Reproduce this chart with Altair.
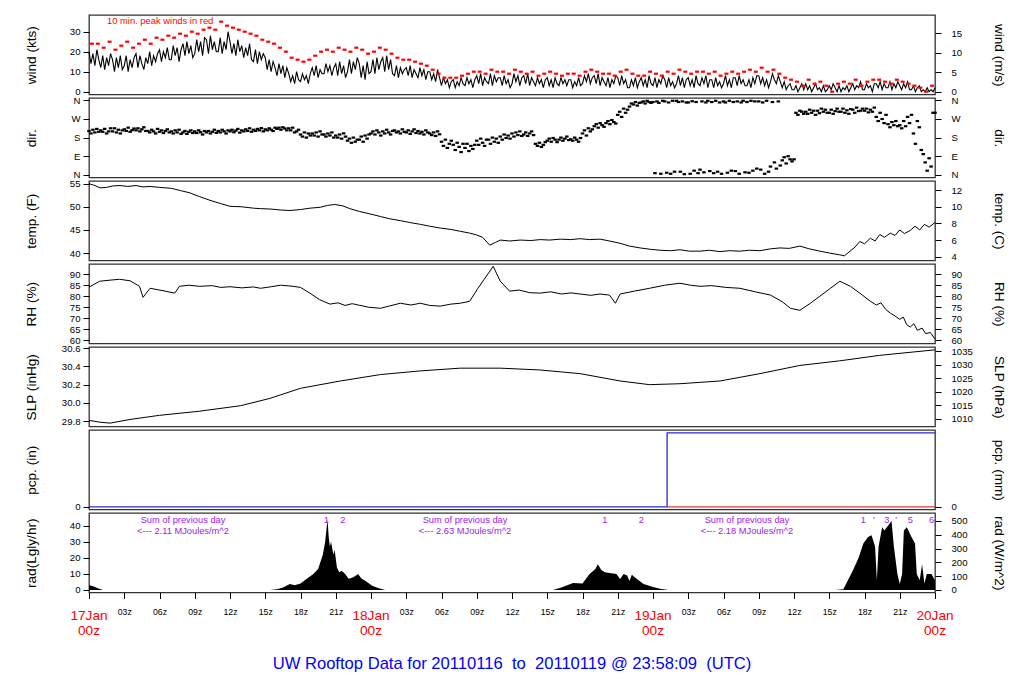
import altair as alt
import pandas as pd

# ---------------- data ----------------
# wind speed (kts), every 10 min starting 17Jan 00z
WIND_KTS = [
 20,14,19,13,21,16, 12,18,11,17,13,19, 16,10,17,12,18,11, 13,18,10,16,12,17, 19,12,18,14,11,17, 14,20,13,18,15,19,
 21,15,20,17,22,16, 16,23,18,22,15,21, 24,18,25,19,23,17, 19,26,20,25,18,27, 26,19,28,21,25,20, 20,27,19,25,21,30,
 25,19,24,18,26,20, 23,17,22,18,24,16, 15,21,14,20,16,19, 17,11,16,10,15,12, 8,14,9,13,7,12, 9,5,8,4,10,6,
 5,9,6,8,4,9, 12,8,13,7,11,9, 9,14,10,13,8,12, 14,8,15,9,13,7, 10,16,9,15,11,17, 14,7,13,6,15,9,
 10,16,9,17,11,15, 17,10,18,11,16,9, 8,13,7,12,9,11, 12,8,13,7,11,9, 7,12,8,11,6,10, 10,6,9,5,11,7,
 3,7,4,6,2,5, 6,2,5,3,7,4, 3,7,4,6,2,6, 8,4,9,3,7,5, 4,9,3,8,5,7, 7,3,8,4,6,2,
 4,9,5,8,3,7, 8,4,9,3,7,5, 3,7,4,6,2,6, 7,3,6,2,7,4, 3,7,4,6,3,6, 6,2,5,3,7,3,
 4,8,5,9,4,7, 8,4,9,3,7,5, 3,7,2,6,4,8, 7,3,8,4,6,2, 2,6,3,7,2,5, 7,3,6,2,8,4,
 3,7,2,6,4,8, 6,2,7,3,5,2, 4,8,3,7,2,6, 7,3,6,2,8,4, 3,7,4,8,2,6, 6,2,7,3,5,2,
 4,8,3,6,2,7, 7,3,8,4,6,3, 3,6,2,7,4,8, 8,4,7,3,6,2, 5,9,6,4,8,5, 2,5,1,3,4,1,
 1,3,0,2,4,1, 4,1,3,0,2,4, 1,2,0,3,0,1, 3,1,4,2,0,3, 0,2,1,3,0,2, 4,1,3,2,5,1,
 1,4,2,3,0,4, 4,2,5,1,4,2, 2,5,1,4,2,5, 3,1,4,2,5,1, 1,3,0,2,3,0, 1,0,2,0,1,0,
 2]

# 10-min peak winds (kts), every 30 min
PEAK_KTS = [
 24,24, 22,25, 21,23, 25,22, 24,26, 24,27, 26,28, 27,29, 28,30, 29,31, 32,31, 35,33,
 32,31, 30,29, 28,26, 25,24, 22,20, 17,16, 15,16, 18,20, 21,20, 22,21, 20,22, 21,19,
 20,22, 21,19, 17,16, 16,15, 14,13, 11,9, 7,7, 7,8, 9,10, 10,9, 11,10, 10,9,
 11,10, 9,10, 8,9, 10,9, 8,9, 9,8, 10,11, 10,9, 9,8, 10,11, 9,8, 8,10,
 9,8, 10,9, 11,10, 9,10, 10,9, 10,8, 9,10, 9,10, 11,10, 12,10, 11,9, 7,6,
 5,3, 6,4, 5,3, 0,4, 5,4, 6,3, 5,6, 6,5, 4,6, 5,4, 3,2, 0,3]

# wind direction (deg), every 10 min
DIR_DEG = [
 212,200,218,205,222,208, 215,208,222,200,210,225, 210,225,205,218,200,215, 220,212,228,208,216,224, 215,225,210,220,230,212, 212,205,218,210,200,222,
 208,215,202,212,220,205, 210,200,215,205,218,198, 205,212,198,208,215,202, 210,202,215,206,195,212, 205,212,200,208,218,203, 212,205,218,210,200,215,
 210,218,206,214,222,204, 215,210,220,212,225,208, 218,212,222,215,226,210, 220,215,225,218,212,228, 222,228,218,230,224,215, 225,215,228,205,210,218,
 195,185,205,180,200,190, 200,190,205,185,210,195, 195,185,200,190,205,180, 190,180,195,175,200,185, 165,175,155,180,160,170, 170,185,160,190,175,195,
 200,210,195,215,205,190, 210,200,218,205,195,212, 215,205,210,200,220,208, 205,215,198,210,220,202, 212,200,208,195,215,205, 200,192,205,188,210,196,
 160,140,170,130,150,165, 145,120,155,135,110,150, 130,150,115,140,125,145, 165,145,175,155,140,170, 170,150,180,160,175,155, 185,170,195,178,190,175,
 200,185,205,192,210,188, 195,205,188,200,210,192, 150,140,155,135,145,158, 165,175,160,178,170,158, 170,180,165,175,185,168, 172,165,180,170,160,178,
 200,215,190,225,210,220, 235,245,228,250,240,232, 250,260,245,265,255,248, 290,305,280,320,300,315, 330,345,340,352,335,348, 350,355,345,358,352,348,
 352,8,355,348,5,358, 355,10,350,5,358,15, 358,352,15,355,3,350, 350,5,356,20,352,8, 25,355,12,350,358,18, 352,8,358,15,350,5,
 355,350,10,358,20,352, 18,355,5,350,358,12, 352,10,358,20,355,30, 355,25,350,5,358,15, 40,352,60,30,355,45, 70,85,55,90,75,65,
 75,300,290,310,305,295, 305,295,315,300,310,290, 310,298,320,305,315,300, 300,315,295,308,320,305, 305,320,300,312,295,318, 315,300,325,308,310,320,
 310,320,302,315,305,325, 280,260,300,270,250,290, 245,230,255,240,260,235, 240,225,260,235,280,250, 290,200,150,260,230,120, 100,60,20,80,40,300,
 300]

TEMP_T = [0, 0.5, 0.94, 1.5, 2.0, 2.64, 3.3, 4.0, 4.6, 5.2, 6.0, 7.0, 7.8, 8.6, 9.4, 10.3, 11.2,
          12, 13, 14, 14.6, 15.5, 16.3, 17.1, 18, 18.8, 19.7, 20.3, 20.9, 21.6, 22.2, 23, 24,
          24.8, 25.6, 26.5, 27.3, 28.2, 29, 29.9, 30.8, 31.6, 32.4, 33.0, 33.5, 34.1, 34.6, 35,
          35.8, 36.7, 37.6, 38.4, 39.2, 40.1, 41, 41.8, 42.6, 43.5, 44.3, 45.2, 46, 46.9, 47.8,
          48.6, 49.5, 50.3, 51.1, 52, 52.8, 53.7, 54.5, 55.4, 56.2, 57.1, 58, 58.8, 59.6, 60.5,
          61.3, 62.2, 63, 63.9, 64.3, 65.2, 65.6, 66.0, 66.5, 66.9, 67.3, 67.7, 68.2, 68.6, 69.0,
          69.4, 69.9, 70.3, 70.7, 71.1, 71.5, 72]
TEMP_F = [55.0, 54.6, 54.1, 54.2, 54.5, 54.6, 54.4, 54.6, 54.3, 54.4, 54.2, 54.0, 53.5, 53.0,
          52.2, 51.4, 50.7, 50.1, 50.0, 49.7, 49.6, 49.5, 49.3, 49.2, 49.4, 49.7, 49.9, 50.3,
          50.5, 50.2, 49.6, 49.0, 48.4, 47.9, 47.4, 47.0, 46.6, 46.2, 45.8, 45.4, 45.1, 44.7,
          44.3, 43.9, 43.4, 41.7, 42.3, 42.8, 42.6, 42.8, 42.7, 42.9, 42.8, 43.0, 42.9, 43.1,
          42.9, 43.0, 42.6, 42.1, 41.5, 41.1, 40.8, 40.6, 40.5, 40.7, 40.4, 40.4, 40.6, 40.3,
          40.5, 40.4, 40.6, 40.5, 40.9, 41.1, 41.0, 41.5, 40.9, 40.4, 40.0, 39.6, 39.4, 41.3,
          42.5, 42.0, 43.2, 42.6, 44.0, 43.4, 44.3, 43.8, 45.0, 44.2, 44.9, 45.8, 45.0, 46.2,
          45.6, 46.6]

RH_T = [0, 0.9, 1.8, 2.6, 3.5, 4.3, 4.6, 5.2, 5.8, 6.3, 7.3, 7.7, 8.5, 9.4, 10.5, 11.2, 12, 13,
        14, 14.6, 15.5, 16.3, 17.2, 18, 18.8, 19.6, 20.5, 21.2, 21.8, 22.4, 23, 23.8, 24.8,
        25.6, 26.5, 27.4, 28.2, 29.0, 29.9, 30.8, 31.6, 32.4, 33.1, 34, 34.4, 35, 35.8, 36.6,
        37.5, 38.4, 39.3, 40.2, 41, 41.8, 42.7, 43.5, 44.3, 44.8, 45.2, 46.4, 47.7, 49, 50.3,
        51.2, 52, 53, 54.2, 55.4, 56.7, 58, 59, 59.7, 60.5, 61.4, 62.2, 63.1, 63.9, 64.8, 65.6,
        66.5, 67.0, 67.4, 67.8, 68.2, 68.6, 69.0, 69.3, 69.6, 69.9, 70.2, 70.5, 70.9, 71.2,
        71.6, 72]
RH_PCT = [84.1, 86.8, 87.3, 87.7, 87.0, 84.5, 79.5, 83.6, 83.0, 82.5, 81.4, 84.5, 85.0, 84.5,
          84.8, 84.0, 84.3, 83.8, 84.2, 83.6, 84.3, 85.0, 84.6, 84.0, 81.4, 78.5, 76.4, 77.0,
          75.8, 76.6, 75.9, 75.0, 74.5, 75.6, 76.8, 76.0, 76.8, 75.8, 75.5, 76.4, 76.8, 77.7,
          83.6, 90.5, 93.6, 86.8, 82.3, 82.8, 81.6, 81.4, 82.0, 81.0, 81.5, 81.0, 80.4, 81.0,
          80.5, 76.8, 81.0, 82.3, 83.6, 85.0, 85.9, 85.0, 84.5, 84.8, 84.0, 83.6, 82.0, 80.5,
          77.5, 74.5, 73.6, 76.8, 80.0, 83.6, 86.8, 84.5, 81.4, 77.7, 76.0, 77.0, 74.0, 72.3,
          71.0, 69.5, 70.5, 67.0, 66.0, 67.5, 64.5, 65.5, 63.0, 63.5, 60.5]

SLP_T = [0, 0.94, 1.8, 3.5, 6, 9.4, 12.9, 15.4, 18, 21.4, 24.8, 28.2, 31.6, 35, 38.4, 41.8,
         45.2, 47.7, 50.3, 53.7, 57.1, 60.5, 63.9, 67.3, 72]
SLP_INHG = [29.81, 29.79, 29.78, 29.82, 29.865, 29.91, 29.97, 30.05, 30.16, 30.24, 30.31,
            30.35, 30.38, 30.38, 30.36, 30.32, 30.24, 30.20, 30.21, 30.24, 30.32, 30.41,
            30.46, 30.52, 30.58]

PCP_T = [0, 49.2, 49.2, 72]
PCP_IN = [0, 0, 0.01, 0.01]
PCP_MM_T = [49.2, 72]
PCP_MM = [0, 0]

RAD_T = [0, 0.3, 0.8, 1.2,
         15.4, 16, 16.5, 17.1, 17.5, 18, 18.5, 19.1, 19.5, 19.9, 20.1, 20.2, 20.3, 20.4, 20.5,
         20.6, 20.8, 20.9, 21.1, 21.3, 21.5, 21.8, 22.1, 22.5, 22.9, 23.2, 23.5, 24.1, 24.6, 25.2,
         39.5, 40.2, 41.2, 42, 42.6, 43.1, 43.3, 43.6, 43.9, 44.3, 44.9, 45.2, 45.5, 45.8, 46,
         46.2, 46.6, 47.2, 48, 48.6, 49.3,
         63.5, 64.2, 65, 65.5, 65.9, 66.3, 66.6, 66.9, 67.05, 67.2, 67.5, 67.7, 68, 68.3, 68.5,
         68.8, 69, 69.2, 69.35, 69.6, 70, 70.3, 70.45, 70.7, 70.9, 71.1, 71.3, 71.7, 71.85, 72]
RAD_LGLY = [3, 2.5, 1, 0,
            0, 0.5, 1.5, 3.7, 3, 4, 6.8, 10, 13, 22, 30, 37, 44, 33, 27,
            30, 22, 25, 14, 11, 12, 10, 7, 8, 10, 7, 5.8, 2.7, 1.2, 0,
            0, 1.5, 4.4, 4, 10, 13, 16, 12.5, 11, 10.5, 10, 6.8, 10, 9, 5.6,
            9.5, 7, 3.7, 1.9, 0.8, 0,
            0, 0.5, 12, 20, 29, 33, 34, 27, 6, 27, 39, 37, 40, 43, 27,
            10, 3.7, 10, 37, 39, 33, 29, 10, 6, 16, 4, 10, 10, 8, 6]

ANN_H = [8, 32, 56]
ANN_L1 = ["Sum of previous day", "Sum of previous day", "Sum of previous day"]
ANN_L2 = ["<--- 2.11 MJoules/m^2", "<--- 2.63 MJoules/m^2", "<--- 2.18 MJoules/m^2"]
NUM_H = [20.2, 21.6, 43.9, 47.0, 65.9, 66.8, 67.9, 68.7, 69.9, 71.7]
NUM_T = ["1", "2", "1", "2", "1", "'", "3", "'", "5", "6"]

DAY_H = [0, 24, 48, 72]
DAY_L = ["17Jan", "18Jan", "19Jan", "20Jan"]
DAY_Z = ["00z", "00z", "00z", "00z"]

WIND_NOTE = "10 min. peak winds in red"
TITLE = "UW Rooftop Data for 20110116 \u00a0to \u00a020110119 @ 23:58:09 \u00a0(UTC)"

# ---------------- layout / styling ----------------
W = 846
H = 79.5
FONT = "Liberation Sans"
PURPLE = "#a020f0"
XS = alt.Scale(domain=[0, 72], nice=False, zero=False)
X_NONE = alt.X("h:Q", scale=XS, axis=None)


def yaxis(title, values, side, fmt=None, expr=None):
    d = dict(title=title, values=values, orient=side, grid=False, domain=False,
             ticks=True, tickSize=6, tickColor="black", labelColor="black",
             labelFont=FONT, labelFontSize=9.6,
             labelPadding=3 if side == "left" else 10,
             titleFont=FONT, titleFontSize=13.6, titleFontWeight="normal",
             titleColor="black",
             titleX=-58 if side == "left" else 63, titleY=H / 2,
             titleAngle=270 if side == "left" else 90,
             titleAlign="center", titleBaseline="middle",
             labelOverlap=False, labelFlush=False)
    if fmt:
        d["format"] = fmt
    if expr:
        d["labelExpr"] = expr
    return alt.Axis(**d)


def ys(dom):
    return alt.Scale(domain=dom, nice=False, zero=False)


# ---- wind ----
WIND_DOM = [-1.4, 38.35]
wind_df = pd.DataFrame({"h": [i / 6 for i in range(len(WIND_KTS))], "kts": WIND_KTS})
wind_df["ms"] = wind_df["kts"] * 0.5144
peak_df = pd.DataFrame({"h": [0.25 + 0.5 * i for i in range(len(PEAK_KTS))], "kts": PEAK_KTS})

wind = alt.layer(
    alt.Chart(wind_df).mark_line(color="black", strokeWidth=1.1).encode(
        x=X_NONE, y=alt.Y("kts:Q", scale=ys(WIND_DOM), axis=yaxis("wind (kts)", [0, 10, 20, 30], "left"))),
    alt.Chart(peak_df).mark_tick(orient="horizontal", color="#ff0000", size=4, thickness=2.2, opacity=1).encode(
        x=X_NONE, y=alt.Y("kts:Q", scale=ys(WIND_DOM), axis=None)),
    alt.Chart(pd.DataFrame({"t": [WIND_NOTE]})).mark_text(
        align="left", baseline="middle", color="red", fontSize=9.4, font=FONT).encode(
        x=alt.value(18), y=alt.value(6), text="t:N"),
    alt.Chart(wind_df).mark_line(opacity=0).encode(
        x=X_NONE, y=alt.Y("ms:Q", scale=ys([WIND_DOM[0] * 0.5144, WIND_DOM[1] * 0.5144]),
                          axis=yaxis("wind (m/s)", [0, 5, 10, 15], "right"))),
).resolve_scale(y="independent").properties(width=W, height=H)

# ---- direction ----
DIR_DOM = [-13, 371.5]
DIR_EXPR = "datum.value == 90 ? 'E' : datum.value == 180 ? 'S' : datum.value == 270 ? 'W' : 'N'"
dir_df = pd.DataFrame({"h": [i / 6 for i in range(len(DIR_DEG))], "deg": DIR_DEG})
dirp = alt.layer(
    alt.Chart(dir_df).mark_tick(orient="horizontal", color="black", size=3.5, thickness=2.2, opacity=1).encode(
        x=X_NONE, y=alt.Y("deg:Q", scale=ys(DIR_DOM),
                          axis=yaxis("dir.", [0, 90, 180, 270, 360], "left", expr=DIR_EXPR))),
    alt.Chart(dir_df).mark_line(opacity=0).encode(
        x=X_NONE, y=alt.Y("deg:Q", scale=ys(DIR_DOM),
                          axis=yaxis("dir.", [0, 90, 180, 270, 360], "right", expr=DIR_EXPR))),
).resolve_scale(y="independent").properties(width=W, height=H)

# ---- temperature ----
TEMP_DOM = [38.38, 55.58]
temp_df = pd.DataFrame({"h": TEMP_T, "f": TEMP_F})
temp_df["c"] = (temp_df["f"] - 32) / 1.8
temp = alt.layer(
    alt.Chart(temp_df).mark_line(color="black", strokeWidth=1).encode(
        x=X_NONE, y=alt.Y("f:Q", scale=ys(TEMP_DOM), axis=yaxis("temp. (F)", [40, 45, 50, 55], "left"))),
    alt.Chart(temp_df).mark_line(opacity=0).encode(
        x=X_NONE, y=alt.Y("c:Q", scale=ys([(TEMP_DOM[0] - 32) / 1.8, (TEMP_DOM[1] - 32) / 1.8]),
                          axis=yaxis("temp. (C)", [4, 6, 8, 10, 12], "right"))),
).resolve_scale(y="independent").properties(width=W, height=H)

# ---- RH ----
RH_DOM = [58.5, 94.64]
rh_df = pd.DataFrame({"h": RH_T, "rh": RH_PCT})
rh = alt.layer(
    alt.Chart(rh_df).mark_line(color="black", strokeWidth=1).encode(
        x=X_NONE, y=alt.Y("rh:Q", scale=ys(RH_DOM),
                          axis=yaxis("RH (%)", [60, 65, 70, 75, 80, 85, 90], "left"))),
    alt.Chart(rh_df).mark_line(opacity=0).encode(
        x=X_NONE, y=alt.Y("rh:Q", scale=ys(RH_DOM),
                          axis=yaxis("RH (%)", [60, 65, 70, 75, 80, 85, 90], "right"))),
).resolve_scale(y="independent").properties(width=W, height=H)

# ---- SLP ----
SLP_DOM = [29.743, 30.611]
slp_df = pd.DataFrame({"h": SLP_T, "inhg": SLP_INHG})
slp_df["hpa"] = slp_df["inhg"] * 33.8639
slp = alt.layer(
    alt.Chart(slp_df).mark_line(color="black", strokeWidth=1).encode(
        x=X_NONE, y=alt.Y("inhg:Q", scale=ys(SLP_DOM),
                          axis=yaxis("SLP (inHg)", [29.8, 30.0, 30.2, 30.4, 30.6], "left", fmt=".1f"))),
    alt.Chart(slp_df).mark_line(opacity=0).encode(
        x=X_NONE, y=alt.Y("hpa:Q", scale=ys([SLP_DOM[0] * 33.8639, SLP_DOM[1] * 33.8639]),
                          axis=yaxis("SLP (hPa)", [1010, 1015, 1020, 1025, 1030, 1035], "right", fmt="d"))),
).resolve_scale(y="independent").properties(width=W, height=H)

# ---- precipitation ----
PCP_DOM = [-0.000365, 0.010378]
pcp_df = pd.DataFrame({"h": PCP_T, "inch": PCP_IN, "idx": list(range(len(PCP_T)))})
pcpmm_df = pd.DataFrame({"h": PCP_MM_T, "mm": PCP_MM})
pcp = alt.layer(
    alt.Chart(pcp_df).mark_line(color="#2a2ad8", strokeWidth=1.3).encode(
        x=X_NONE, y=alt.Y("inch:Q", scale=ys(PCP_DOM), axis=yaxis("pcp. (in)", [0], "left", fmt="d")),
        order="idx:Q"),
    alt.Chart(pcpmm_df).mark_line(color="#e03a3a", strokeWidth=1.3).encode(
        x=X_NONE, y=alt.Y("mm:Q", scale=ys([PCP_DOM[0] * 25.4, PCP_DOM[1] * 25.4]),
                          axis=yaxis("pcp. (mm)", [0], "right", fmt="d"))),
).resolve_scale(y="independent").properties(width=W, height=H)

# ---- radiation ----
RAD_DOM = [-1.56, 47.9]
rad_df = pd.DataFrame({"h": RAD_T, "lgly": RAD_LGLY})
rad_df["wm2"] = rad_df["lgly"] * 11.63
rad_df["zero"] = 0.0
ann_df = pd.DataFrame({"h": ANN_H, "l1": ANN_L1, "l2": ANN_L2})
num_df = pd.DataFrame({"h": NUM_H, "t": NUM_T})
day_df = pd.DataFrame({"h": DAY_H, "d": DAY_L, "z": DAY_Z})

XB = alt.X("h:Q", scale=XS, axis=alt.Axis(
    values=list(range(0, 73, 3)), title=None, grid=False, domain=False,
    tickSize=6, tickColor="black", labelFont=FONT, labelFontSize=8.7, labelColor="black",
    labelPadding=9, labelOverlap=False, labelFlush=False,
    labelExpr="datum.value % 24 == 0 ? '' : ((datum.value % 24 < 10 ? '0' : '') + (datum.value % 24) + 'z')"))

rad = alt.layer(
    alt.Chart(rad_df).mark_area(color="black", interpolate="linear").encode(
        x=XB, y=alt.Y("lgly:Q", scale=ys(RAD_DOM), axis=yaxis("rad(Lgly/hr)", [0, 10, 20, 30, 40], "left")),
        y2="zero:Q"),
    alt.Chart(ann_df).mark_text(color=PURPLE, fontSize=9.3, font=FONT, baseline="middle").encode(
        x=XB, y=alt.value(7), text="l1:N"),
    alt.Chart(ann_df).mark_text(color=PURPLE, fontSize=9.3, font=FONT, baseline="middle").encode(
        x=XB, y=alt.value(17.5), text="l2:N"),
    alt.Chart(num_df).mark_text(color=PURPLE, fontSize=9.3, font=FONT, baseline="middle").encode(
        x=XB, y=alt.value(7), text="t:N"),
    alt.Chart(day_df).mark_text(color="#ff0000", fontSize=13.6, font=FONT, baseline="middle").encode(
        x=XB, y=alt.value(H + 23), text="d:N"),
    alt.Chart(day_df).mark_text(color="#ff0000", fontSize=13.6, font=FONT, baseline="middle").encode(
        x=XB, y=alt.value(H + 38.5), text="z:N"),
    alt.Chart(pd.DataFrame({"t": [TITLE]})).mark_text(
        color="#0000ff", fontSize=16.6, font=FONT, baseline="middle").encode(
        x=alt.value(W / 2), y=alt.value(H + 71.5), text="t:N"),
    alt.Chart(rad_df).mark_line(opacity=0).encode(
        x=XB, y=alt.Y("wm2:Q", scale=ys([RAD_DOM[0] * 11.63, RAD_DOM[1] * 11.63]),
                      axis=yaxis("rad (W/m^2)", [0, 100, 200, 300, 400, 500], "right"))),
).resolve_scale(y="independent").properties(width=W, height=H)

chart = alt.vconcat(wind, dirp, temp, rh, slp, pcp, rad, spacing=3, bounds="flush").properties(
    padding={"left": 15, "top": 6, "right": 5, "bottom": 5}
).configure(font=FONT).configure_view(stroke="#333333", strokeWidth=1.3)

chart.save("out.html", embed_options={"renderer": "svg", "actions": False})
